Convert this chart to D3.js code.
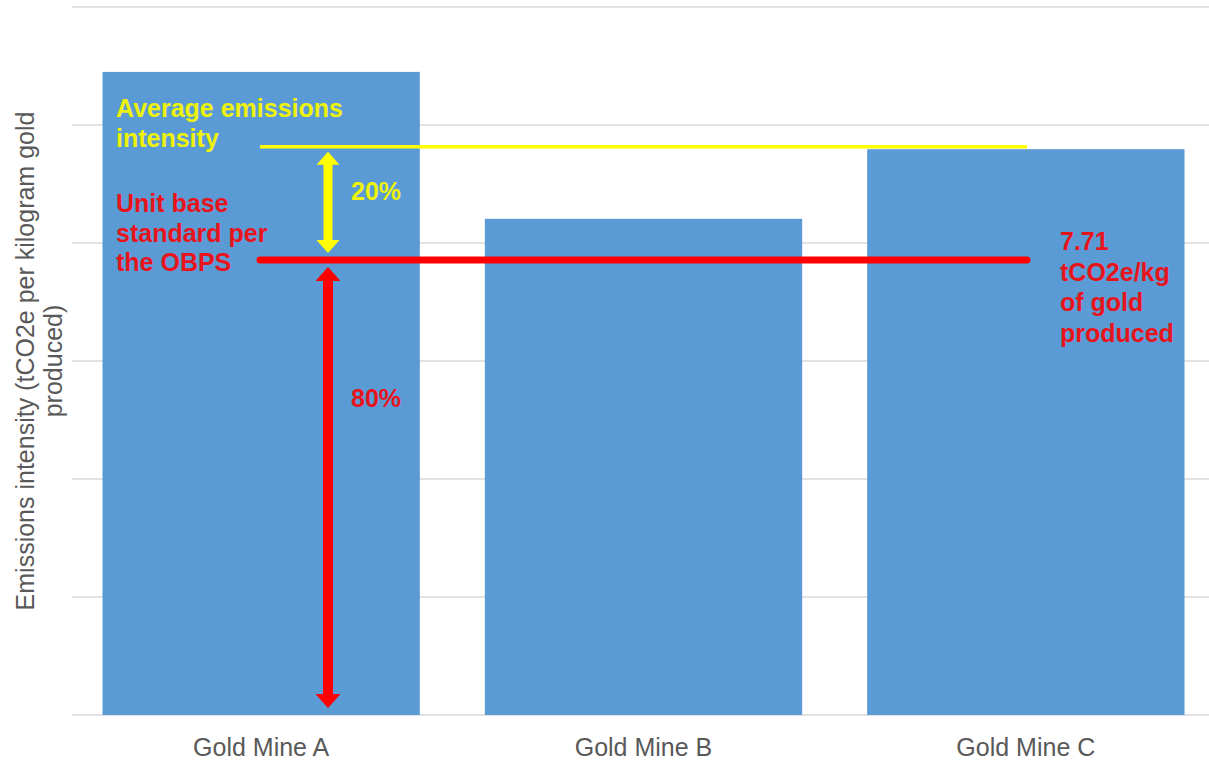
<!DOCTYPE html>
<html>
<head>
<meta charset="utf-8">
<script src="https://cdn.jsdelivr.net/npm/d3@7"></script>
<style>
  html, body { margin: 0; padding: 0; background: #fff; }
  svg { display: block; font-family: "Liberation Sans", Arial, sans-serif; }
</style>
</head>
<body>
<svg id="chart" width="1209" height="762"></svg>
<script>
// Emissions intensity per mine (tCO2e per kg of gold produced)
const categories = ["Gold Mine A", "Gold Mine B", "Gold Mine C"];
const intensities = [10.9, 8.41, 9.59];
const yTicks = [0, 2, 4, 6, 8, 10, 12];
const unitStandard = 7.71;          // OBPS unit base standard
const standardShare = ["20%", "80%"];

const W = 1209, H = 762;
const svg = d3.select("#chart");

const x = d3.scaleBand()
  .domain(categories)
  .range([70, 1217])
  .paddingInner(0.17)
  .paddingOuter(0.085);

const y = d3.scaleLinear().domain([0, 12]).range([715, 7]);

const average = d3.mean(intensities);

// gridlines
svg.append("g")
  .selectAll("line")
  .data(yTicks)
  .join("line")
  .attr("x1", 72).attr("x2", W)
  .attr("y1", d => y(d)).attr("y2", d => y(d))
  .attr("stroke", "#d9d9d9")
  .attr("stroke-width", 1.3);

// bars
svg.append("g")
  .selectAll("rect")
  .data(intensities)
  .join("rect")
  .attr("x", (d, i) => x(categories[i]))
  .attr("y", d => y(d))
  .attr("width", x.bandwidth())
  .attr("height", d => y(0) - y(d))
  .attr("fill", "#5b9bd5");

// category axis
const xAxis = svg.append("g")
  .attr("transform", `translate(0,${y(0)})`)
  .call(d3.axisBottom(x).tickSize(0).tickPadding(23));
xAxis.select(".domain").remove();
xAxis.selectAll("text")
  .attr("font-size", 25)
  .attr("font-family", "Liberation Sans, Arial, sans-serif")
  .attr("fill", "#595959");

// y-axis title
const yTitle = svg.append("text")
  .attr("transform", `translate(0,${(y(0) + y(12)) / 2}) rotate(-90)`)
  .attr("text-anchor", "middle")
  .attr("font-size", 25)
  .attr("fill", "#595959");
yTitle.append("tspan").attr("x", 0).attr("y", 34).text("Emissions intensity (tCO2e per kilogram gold");
yTitle.append("tspan").attr("x", 0).attr("y", 62).text("produced)");

// reference lines
const lineX0 = 260, lineX1 = 1027;
svg.append("line")
  .attr("x1", lineX0).attr("x2", lineX1)
  .attr("y1", y(average)).attr("y2", y(average))
  .attr("stroke", "#ffff00").attr("stroke-width", 3.5);

svg.append("line")
  .attr("x1", lineX0).attr("x2", lineX1)
  .attr("y1", y(unitStandard)).attr("y2", y(unitStandard))
  .attr("stroke", "#ff0000").attr("stroke-width", 7)
  .attr("stroke-linecap", "round");

// double-headed vertical arrow
function doubleArrow(cx, top, bottom, shaft, headW, headL, color) {
  const s = shaft / 2, h = headW / 2;
  const pts = [
    [cx, top], [cx + h, top + headL], [cx + s, top + headL],
    [cx + s, bottom - headL], [cx + h, bottom - headL], [cx, bottom],
    [cx - h, bottom - headL], [cx - s, bottom - headL], [cx - s, top + headL],
    [cx - h, top + headL]
  ];
  svg.append("path")
    .attr("d", d3.line()(pts) + "Z")
    .attr("fill", color);
}
const arrowX = 328;
doubleArrow(arrowX, y(average) + 5, y(unitStandard) - 7, 9, 23, 13, "#ffff00");
doubleArrow(arrowX, y(unitStandard) + 7, y(0) - 7, 10, 25, 14, "#ff0000");

// annotation text
function block(lines, xPos, yStart, lh, color) {
  const t = svg.append("text")
    .attr("font-size", 25)
    .attr("font-weight", "bold")
    .attr("fill", color);
  lines.forEach((s, i) => t.append("tspan").attr("x", xPos).attr("y", yStart + i * lh).text(s));
}
block(["Average emissions", "intensity"], 116, 117, 30, "#eef20a");
block([standardShare[0]], 351, 200, 30, "#eef20a");
block(["Unit base", "standard per", "the OBPS"], 116, 212, 29.5, "#e8141c");
block([standardShare[1]], 351, 407, 30, "#e8141c");
block([unitStandard.toFixed(2), "tCO2e/kg", "of gold", "produced"], 1060, 250, 30.7, "#e8141c");
</script>
</body>
</html>
